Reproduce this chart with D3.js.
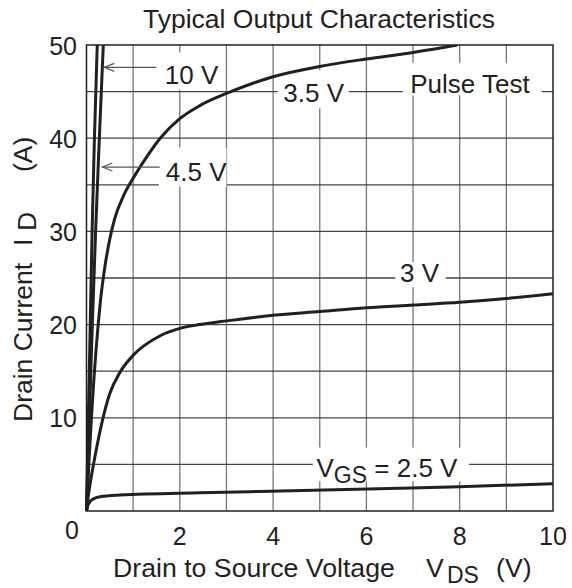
<!DOCTYPE html>
<html><head><meta charset="utf-8">
<script src="https://cdn.jsdelivr.net/npm/d3@7"></script>
<style>body{margin:0;background:#fff}svg{display:block}text{font-family:"Liberation Sans",Arial,Helvetica,sans-serif;fill:#231f20}</style>
</head><body>
<script>
const xTicks = [0, 2, 4, 6, 8, 10];
const yTicks = [0, 10, 20, 30, 40, 50];
const gridX = [1,2,3,4,5,6,7,8,9];
const gridY = [5,10,15,20,25,30,35,40,45];

const vgs10_V  = [0, 0.04, 0.08, 0.12, 0.17, 0.23];
const vgs10_I  = [0, 10, 20, 30, 40, 50];
const vgs45_V  = [0, 0.06, 0.125, 0.195, 0.275, 0.36];
const vgs45_I  = [0, 10, 20, 30, 40, 50];
const vgs35_V  = [0, 0.05, 0.1, 0.15, 0.2, 0.25, 0.3, 0.4, 0.5, 0.6, 0.8, 1.0, 1.29, 1.58, 2.0, 2.43, 3, 4, 5, 6, 7, 7.95];
const vgs35_I  = [0, 5, 9.5, 13.5, 17, 20, 22.6, 26.4, 29.2, 31.3, 33.9, 35.7, 38.0, 40.0, 42.1, 43.5, 44.8, 46.6, 47.7, 48.5, 49.2, 50];
const vgs3_V   = [0, 0.05, 0.1, 0.15, 0.25, 0.36, 0.5, 0.72, 1.0, 1.58, 2.0, 2.43, 3, 4, 5, 6, 7, 8, 9, 10];
const vgs3_I   = [0, 2, 3.6, 5, 7.6, 10.1, 12.6, 14.9, 16.7, 18.8, 19.6, 20.0, 20.4, 21.0, 21.4, 21.8, 22.1, 22.4, 22.8, 23.3];
const vgs25_V  = [0, 0.03, 0.075, 0.15, 0.29, 0.72, 2.43, 3.5, 6.72, 8, 10];
const vgs25_I  = [0, 0.6, 1.0, 1.3, 1.53, 1.71, 1.96, 2.07, 2.43, 2.6, 2.93];

const W = 572, H = 588;
const svg = d3.select("body").append("svg").attr("width", W).attr("height", H);
const x = d3.scaleLinear().domain([0, 10]).range([86.5, 553]);
const y = d3.scaleLinear().domain([0, 50]).range([511, 45]);
const ink = "#231f20";

// grid
svg.append("g").selectAll("line").data(gridX).join("line")
  .attr("x1", d => x(d)).attr("x2", d => x(d)).attr("y1", y(0)).attr("y2", y(50))
  .attr("stroke", "#777").attr("stroke-width", 1.3);
svg.append("g").selectAll("line").data(gridY).join("line")
  .attr("y1", d => y(d)).attr("y2", d => y(d)).attr("x1", x(0)).attr("x2", x(10))
  .attr("stroke", "#444").attr("stroke-width", 1.3);

// label boxes (white) that interrupt grid
const boxes = [
  {v0: 1.55, v1: 2.8, i0: 45.2, i1: 49.2},    // 10 V
  {v0: 1.55, v1: 3.0, i0: 34.8, i1: 39},      // 4.5 V
  {v0: 4.1, v1: 5.62, i0: 43.2, i1: 47.3},    // 3.5 V
  {v0: 6.78, v1: 9.76, i0: 44.6, i1: 48.1},   // Pulse Test
  {v0: 6.62, v1: 7.7, i0: 24.0, i1: 26.7},    // 3 V
  {v0: 4.85, v1: 8.2, i0: 3.2, i1: 6.8}       // VGS = 2.5 V
];
svg.append("g").selectAll("rect").data(boxes).join("rect")
  .attr("x", d => x(d.v0)).attr("width", d => x(d.v1) - x(d.v0))
  .attr("y", d => y(d.i1)).attr("height", d => y(d.i0) - y(d.i1))
  .attr("fill", "#fff");

// frame
svg.append("rect").attr("x", x(0)).attr("y", y(50)).attr("width", x(10) - x(0)).attr("height", y(0) - y(50))
  .attr("fill", "none").attr("stroke", ink).attr("stroke-width", 1.5);

// curves
const series = [
  [vgs10_V, vgs10_I], [vgs45_V, vgs45_I], [vgs35_V, vgs35_I], [vgs3_V, vgs3_I], [vgs25_V, vgs25_I]
];
const line = d3.line().x(d => x(d[0])).y(d => y(d[1])).curve(d3.curveMonotoneX);
svg.append("clipPath").attr("id", "clip").append("rect")
  .attr("x", x(0) - 2).attr("y", y(50)).attr("width", x(10) - x(0) + 4).attr("height", y(0) - y(50) + 2);
svg.append("g").attr("clip-path", "url(#clip)").selectAll("path").data(series).join("path")
  .attr("d", s => line(s[0].map((v, i) => [v, s[1][i]])))
  .attr("fill", "none").attr("stroke", ink).attr("stroke-width", 3).attr("stroke-linejoin", "round");

// arrows
const arrows = [
  {from: [1.5, 47.6], to: [0.38, 47.6]},
  {from: [1.57, 36.9], to: [0.34, 36.9]}
];
const ag = svg.append("g").attr("stroke", "#555").attr("stroke-width", 1.1).attr("fill", "none");
arrows.forEach(a => {
  const tx = x(a.to[0]), ty = y(a.to[1]);
  ag.append("line").attr("x1", x(a.from[0])).attr("x2", tx).attr("y1", y(a.from[1])).attr("y2", ty);
  ag.append("path").attr("d", `M${tx + 10},${ty - 4}L${tx},${ty}L${tx + 10},${ty + 4}`);
});

// curve labels
const fs = 26;
function lab(t, v, i) {
  return svg.append("text").attr("x", x(v)).attr("y", y(i)).attr("font-size", fs).text(t);
}
lab("10 V", 1.68, 45.8);
lab("4.5 V", 1.7, 35.4);
lab("3.5 V", 4.22, 43.9);
lab("Pulse Test", 6.94, 44.9);
lab("3 V", 6.72, 24.6);
const vg = svg.append("text").attr("x", x(4.93)).attr("y", y(3.7)).attr("font-size", fs);
vg.append("tspan").text("V");
vg.append("tspan").attr("dy", 6).attr("font-size", 23).text("GS");
vg.append("tspan").attr("dy", -6).text(" = 2.5 V");

// title
svg.append("text").attr("x", 319).attr("y", 28).attr("text-anchor", "middle").attr("font-size", 26.5)
  .text("Typical Output Characteristics");

// x tick labels
svg.append("g").selectAll("text").data(xTicks.filter(d => d > 0)).join("text")
  .attr("x", d => x(d)).attr("y", 545).attr("text-anchor", "middle").attr("font-size", 25).text(d => d);
svg.append("text").attr("x", 72).attr("y", 539).attr("text-anchor", "middle").attr("font-size", 25).text(xTicks[0]);
// y tick labels
svg.append("g").selectAll("text").data(yTicks.filter(d => d > 0)).join("text")
  .attr("x", 77).attr("y", d => y(d) + 9.5).attr("text-anchor", "end").attr("font-size", 25).text(d => d);

// axis titles
const xt = svg.append("text").attr("x", 113).attr("y", 577).attr("font-size", 26.7);
xt.append("tspan").text("Drain to Source Voltage");
xt.append("tspan").attr("x", 426).text("V");
xt.append("tspan").attr("dy", 6).attr("x", 447).attr("font-size", 23).text("DS");
xt.append("tspan").attr("dy", -6).attr("x", 496).text("(V)");

const yt = svg.append("text").attr("transform", "translate(31.5,422) rotate(-90)").attr("font-size", 26.5);
yt.append("tspan").text("Drain Current");
yt.append("tspan").attr("x", 176).text("I");
yt.append("tspan").attr("x", 191).attr("dy", 4).text("D");
yt.append("tspan").attr("x", 250).attr("dy", -4).text("(A)");
</script>
</body></html>
